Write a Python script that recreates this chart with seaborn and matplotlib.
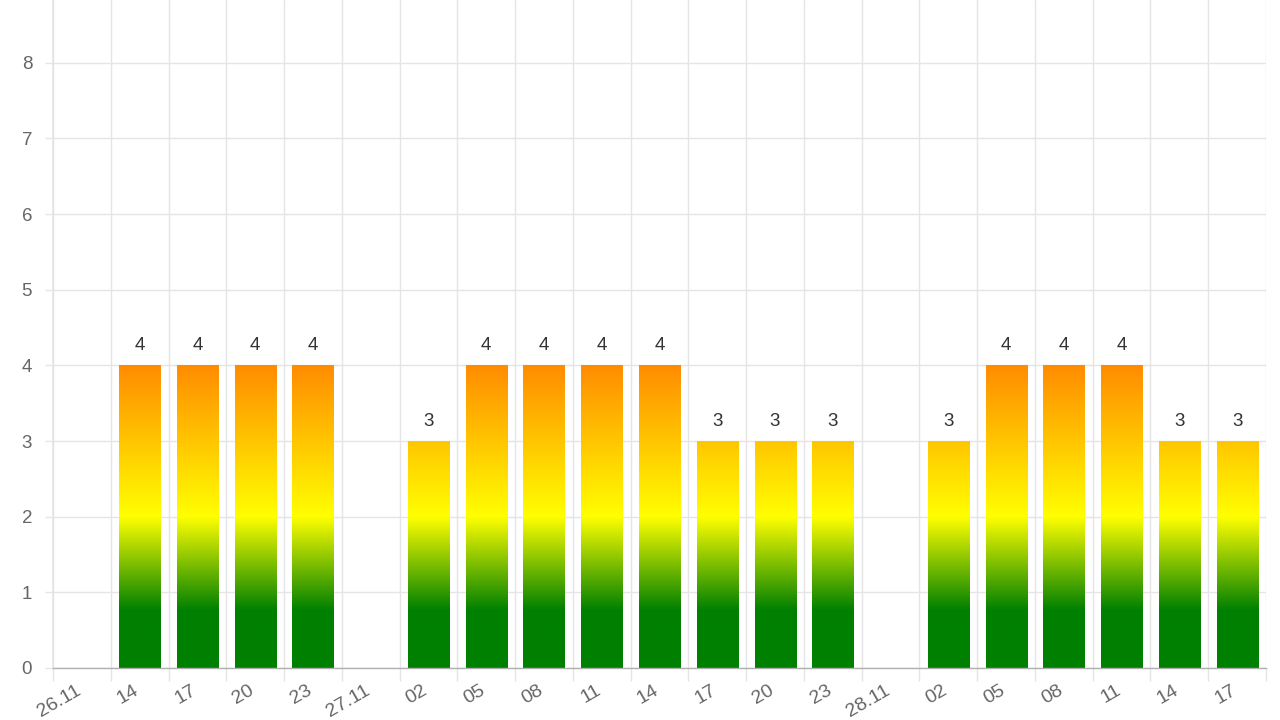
import numpy as np
import pandas as pd
import matplotlib
matplotlib.use("Agg")
import matplotlib.pyplot as plt
from matplotlib.colors import LinearSegmentedColormap
import seaborn as sns

# ---- data ----
slots = ["26.11 00", "26.11 14", "26.11 17", "26.11 20", "26.11 23",
         "27.11 00", "27.11 02", "27.11 05", "27.11 08", "27.11 11", "27.11 14",
         "27.11 17", "27.11 20", "27.11 23",
         "28.11 00", "28.11 02", "28.11 05", "28.11 08", "28.11 11", "28.11 14", "28.11 17"]
tick_labels = ["26.11", "14", "17", "20", "23", "27.11", "02", "05", "08", "11", "14",
               "17", "20", "23", "28.11", "02", "05", "08", "11", "14", "17"]
values = [None, 4, 4, 4, 4, None, 3, 4, 4, 4, 4, 3, 3, 3, None, 3, 4, 4, 4, 3, 3]

df = pd.DataFrame({"slot": slots, "value": values}).dropna()

sns.set_theme(style="white")
plt.rcParams["font.family"] = ["Liberation Sans", "DejaVu Sans"]

fig = plt.figure(figsize=(12.8, 7.2), dpi=100)
ax = fig.add_axes([53 / 1280, 52 / 720, (1266 - 53) / 1280, 668 / 720])

sns.barplot(data=df, x="slot", y="value", order=slots, width=0.71,
            color="#008000", ax=ax, errorbar=None, saturation=1)

# gradient fill (value space)
cmap = LinearSegmentedColormap.from_list(
    "grad", [(0.0, "#008000"), (0.19, "#008000"), (0.5, "#ffff00"), (1.0, "#ff8c00")])
grad = np.linspace(0, 1, 512).reshape(-1, 1)
for p in ax.patches:
    x0 = p.get_x()
    w = p.get_width()
    im = ax.imshow(grad, extent=[x0, x0 + w, 0, 4], origin="lower", cmap=cmap,
                   aspect="auto", zorder=2, interpolation="bilinear")
    im.set_clip_path(p)
    p.set_facecolor("none")
    p.set_edgecolor("none")

ax.bar_label(ax.containers[0], fmt="%g", padding=8, fontsize=13.5, color="#333333")

ax.set_xlim(-0.5, len(slots) - 0.5)
ax.set_ylim(0, 8.83)
ax.set_yticks(range(0, 9))
ax.set_xticks(range(len(slots)))
ax.set_xticklabels(tick_labels, rotation=30, ha="right", va="baseline", rotation_mode="anchor")
ax.set_xticks(np.arange(-0.5, len(slots), 1.0), minor=True)

ax.set_xlabel("")
ax.set_ylabel("")

grid_c = "#e5e5e5"
ax.grid(False)
ax.yaxis.grid(True, color=grid_c, linewidth=1)
ax.xaxis.grid(True, which="minor", color=grid_c, linewidth=1)
ax.set_axisbelow(True)

ax.tick_params(axis="x", which="major", length=0, pad=18, labelsize=14, labelcolor="#666666")
ax.tick_params(axis="x", which="minor", length=9, width=1, color=grid_c, bottom=True)
ax.tick_params(axis="y", length=6, width=1, color=grid_c, pad=9, labelsize=13.5,
               labelcolor="#666666", left=True)

for s in ["top", "right"]:
    ax.spines[s].set_visible(False)
ax.spines["left"].set_color(grid_c)
ax.spines["bottom"].set_color("#b0b0b0")
ax.spines["bottom"].set_linewidth(1)

fig.savefig("out.png", dpi=100)
